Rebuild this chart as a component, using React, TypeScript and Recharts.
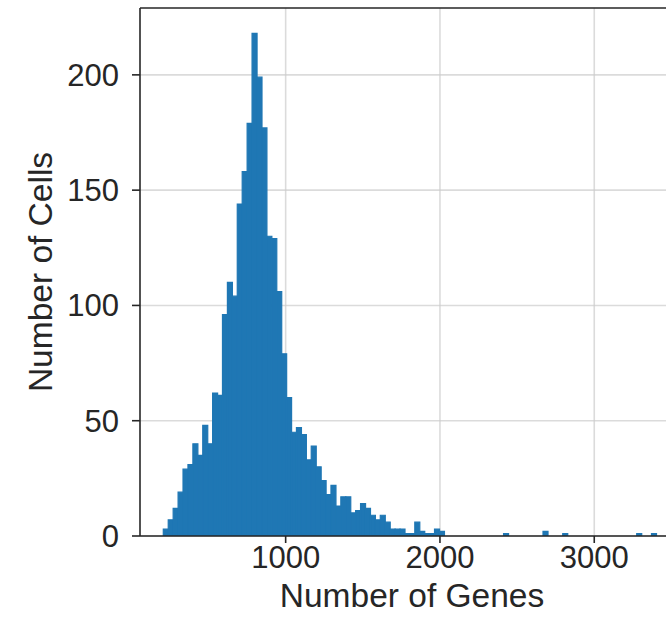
import {
  BarChart,
  Bar,
  XAxis,
  YAxis,
  CartesianGrid,
  ReferenceLine,
} from "recharts";

// histogram of genes per cell, 100 equal bins
const binStart = 207;
const binWidth = 31.96;

const cellCounts = [
  3, 7, 12, 19, 29, 31, 40, 35, 48, 40,
  62, 61, 96, 110, 104, 144, 158, 179, 218, 199,
  177, 130, 129, 106, 79, 60, 45, 47, 44, 33,
  39, 30, 24, 18, 22, 13, 17, 17, 10, 11,
  14, 12, 9, 7, 9, 6, 3, 3, 3, 1,
  1, 6, 2, 1, 1, 3, 2, 0, 0, 0,
  0, 0, 0, 0, 0, 0, 0, 0, 0, 1,
  0, 0, 0, 0, 0, 0, 0, 2, 0, 0,
  0, 1, 0, 0, 0, 0, 0, 0, 0, 0,
  0, 0, 0, 0, 0, 0, 1, 0, 0, 1,
];

const xTicks = [1000, 2000, 3000];
const yTicks = [0, 50, 100, 150, 200];
const xDomain = [56, 3465];
const yDomain = [0, 229];

const data = cellCounts.map((count, i) => ({
  genes: binStart + binWidth * (i + 0.5),
  count,
}));

const FONT = "Arial, 'Liberation Sans', Helvetica, sans-serif";
const INK = "#262626";
const tickStyle = { fontSize: 31, fill: INK, fontFamily: FONT };

const YLabel = ({ viewBox }: any) => {
  const cy = viewBox.y + viewBox.height / 2;
  const x = 52;
  return (
    <text
      x={x}
      y={cy}
      transform={`rotate(-90 ${x} ${cy})`}
      textAnchor="middle"
      fontSize={33.5}
      fontFamily={FONT}
      fill={INK}
    >
      Number of Cells
    </text>
  );
};

export default function App() {
  return (
    <div style={{ position: "absolute", left: 0, top: 0 }}>
      <BarChart
        width={666}
        height={622}
        data={data}
        margin={{ top: 8, right: 0, bottom: 0, left: 0 }}
        barCategoryGap={0}
        barGap={0}
      >
        <Bar
          dataKey="count"
          fill="#1f77b4"
          stroke="#1f77b4"
          strokeWidth={1.2}
          isAnimationActive={false}
        />
        <CartesianGrid
          stroke="#cccccc"
          strokeOpacity={0.7}
          strokeWidth={1.6}
          verticalValues={xTicks}
          horizontalValues={yTicks}
        />
        <XAxis
          dataKey="genes"
          type="number"
          domain={xDomain}
          ticks={xTicks}
          allowDataOverflow
          height={86}
          tick={tickStyle}
          tickSize={7}
          tickMargin={3}
          stroke={INK}
          strokeWidth={1.6}
          label={{
            value: "Number of Genes",
            position: "insideBottom",
            offset: 15,
            dx: 9,
            fontSize: 33.5,
            fontFamily: FONT,
            fill: INK,
          }}
        />
        <YAxis
          type="number"
          domain={yDomain}
          ticks={yTicks}
          allowDataOverflow
          width={140}
          tick={tickStyle}
          tickSize={8}
          tickMargin={13}
          stroke={INK}
          strokeWidth={1.6}
          label={{ content: YLabel }}
        />
        <ReferenceLine y={229} stroke={INK} strokeWidth={1.6} />
      </BarChart>
    </div>
  );
}
